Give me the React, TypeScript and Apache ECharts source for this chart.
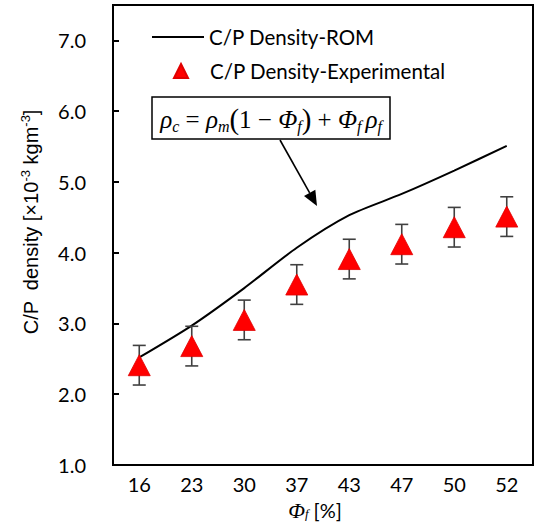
import React, { useEffect, useRef } from "react";
import * as echarts from "echarts";

const categories = ["16", "23", "30", "37", "43", "47", "50", "52"];
const romValues = [2.52, 2.97, 3.5, 4.07, 4.53, 4.83, 5.16, 5.51];
const expValues = [2.41, 2.68, 3.05, 3.55, 3.91, 4.12, 4.36, 4.51];
const expErrors = [0.28, 0.28, 0.28, 0.28, 0.28, 0.28, 0.28, 0.28];
const yTicks = { min: 1, max: 7.5, interval: 1 };

const ROM_NAME = "C/P Density-ROM";
const EXP_NAME = "C/P Density-Experimental";

export default function App() {
  const ref = useRef<HTMLDivElement>(null);
  useEffect(() => {
    if (!ref.current) return;
    const chart = echarts.init(ref.current, undefined, { renderer: "svg" });
    const errData = expValues.map((v, i) => [i, v - expErrors[i], v + expErrors[i]]);

    // arrow geometry
    const sx = 280, sy = 140, tx = 317, ty = 206;
    const dx = tx - sx, dy = ty - sy;
    const len = Math.sqrt(dx * dx + dy * dy);
    const ux = dx / len, uy = dy / len;
    const hl = 15, hw = 6.5;
    const bx = tx - ux * hl, by = ty - uy * hl;
    const px = -uy, py = ux;

    const legendText = { fontFamily: "Lato", fontSize: 20.5, color: "#000" };

    const option: any = {
      animation: false,
      backgroundColor: "#fff",
      grid: {
        left: 113,
        right: 9,
        top: 5,
        bottom: 63,
        show: true,
        borderColor: "#000",
        borderWidth: 2,
        backgroundColor: "transparent",
      },
      legend: [
        {
          data: [{ name: ROM_NAME, icon: "rect" }],
          left: 147,
          top: 21,
          itemWidth: 52,
          itemHeight: 2,
          textStyle: { ...legendText, lineHeight: 22 },
        },
        {
          data: [{ name: EXP_NAME, icon: "triangle" }],
          left: 168,
          top: 55,
          itemWidth: 14,
          itemHeight: 14,
          textStyle: { ...legendText, lineHeight: 22, padding: [0, 0, 0, 17] },
        },
      ],
      xAxis: {
        type: "category",
        data: categories,
        boundaryGap: true,
        axisLine: { lineStyle: { color: "#000", width: 2 } },
        axisTick: { inside: true, alignWithLabel: true, length: 6, lineStyle: { color: "#000", width: 2 } },
        axisLabel: { margin: 11, fontFamily: "Lato", fontSize: 20, lineHeight: 16, color: "#000" },
        splitLine: { show: false },
      },
      yAxis: {
        type: "value",
        min: yTicks.min,
        max: yTicks.max,
        interval: yTicks.interval,
        axisLine: { show: true, lineStyle: { color: "#000", width: 2 } },
        axisTick: { show: true, inside: true, length: 6, lineStyle: { color: "#000", width: 2 } },
        axisLabel: {
          margin: 27,
          fontFamily: "Lato",
          fontSize: 20,
          color: "#000",
          formatter: (v: number) => (v > 7.2 ? "" : v.toFixed(1)),
        },
        splitLine: { show: false },
      },
      series: [
        {
          name: ROM_NAME,
          type: "line",
          data: romValues,
          symbol: "none",
          smooth: 0.25,
          lineStyle: { color: "#000", width: 2 },
          itemStyle: { color: "#000" },
          z: 3,
        },
        {
          name: "err",
          type: "custom",
          data: errData,
          z: 4,
          renderItem: (params: any, api: any) => {
            const i = api.value(0);
            const lo = api.coord([i, api.value(1)]);
            const hi = api.coord([i, api.value(2)]);
            const cw = 6.5;
            const st = { stroke: "#404040", lineWidth: 1.6 };
            return {
              type: "group",
              children: [
                { type: "line", shape: { x1: lo[0], y1: lo[1], x2: hi[0], y2: hi[1] }, style: st },
                { type: "line", shape: { x1: lo[0] - cw, y1: lo[1], x2: lo[0] + cw, y2: lo[1] }, style: st },
                { type: "line", shape: { x1: hi[0] - cw, y1: hi[1], x2: hi[0] + cw, y2: hi[1] }, style: st },
              ],
            };
          },
        },
        {
          name: EXP_NAME,
          type: "scatter",
          data: expValues,
          symbol: "triangle",
          symbolSize: [22, 21],
          itemStyle: { color: "#ff0000", borderColor: "#e00000", borderWidth: 0.8, opacity: 1 },
          z: 5,
        },
      ],
      graphic: [
        {
          type: "rect",
          shape: { x: 152, y: 97, width: 238, height: 42 },
          style: { fill: "#fff", stroke: "#000", lineWidth: 1.5 },
          z: 10,
        },
        {
          type: "text",
          x: 271,
          y: 119,
          z: 11,
          style: {
            align: "center",
            verticalAlign: "middle",
            text:
              "{i|ρ}{s|c}{r| = }{i|ρ}{s|m}{p|(}{r|1 − }{i|Φ}{s|f}{p|)}{r| + }{i|Φ}{s|f }{i|ρ}{s|f}",
            rich: {
              i: { fontFamily: "Liberation Serif", fontStyle: "italic", fontSize: 25, color: "#000", lineHeight: 30 },
              s: { fontFamily: "Liberation Serif", fontStyle: "italic", fontSize: 16, color: "#000", verticalAlign: "bottom", lineHeight: 30 },
              r: { fontFamily: "Liberation Serif", fontSize: 25, color: "#000", lineHeight: 30 },
              p: { fontFamily: "Liberation Serif", fontSize: 29, color: "#000", lineHeight: 30 },
            },
          },
        },
        {
          type: "line",
          z: 11,
          shape: { x1: sx, y1: sy, x2: bx, y2: by },
          style: { stroke: "#000", lineWidth: 1.6 },
        },
        {
          type: "polygon",
          z: 11,
          shape: {
            points: [
              [tx, ty],
              [bx + px * hw, by + py * hw],
              [bx - px * hw, by - py * hw],
            ],
          },
          style: { fill: "#000" },
        },
        {
          type: "text",
          x: 31,
          y: 222,
          rotation: Math.PI / 2,
          style: {
            align: "center",
            verticalAlign: "middle",
            text: "{b|C/P  density [×10}{sup|-3}{b| kgm}{sup|-3}{b|]}",
            rich: {
              b: { fontFamily: "Liberation Sans", fontSize: 20, color: "#000", lineHeight: 24 },
              sup: { fontFamily: "Liberation Sans", fontSize: 13, color: "#000", verticalAlign: "top", lineHeight: 24 },
            },
          },
        },
        {
          type: "text",
          x: 315,
          y: 510,
          style: {
            align: "center",
            verticalAlign: "middle",
            text: "{phi|Φ}{sub|f}{t| [%]}",
            rich: {
              phi: { fontFamily: "Liberation Serif", fontStyle: "italic", fontSize: 22, color: "#000", lineHeight: 20 },
              sub: { fontFamily: "Liberation Serif", fontStyle: "italic", fontSize: 13, color: "#000", verticalAlign: "bottom", lineHeight: 20 },
              t: { fontFamily: "Lato", fontSize: 20, color: "#000", lineHeight: 20 },
            },
          },
        },
      ],
    };
    chart.setOption(option);
    return () => chart.dispose();
  }, []);
  return (
    <div
      ref={ref}
      style={{ position: "fixed", left: 0, top: 0, width: 542, height: 528, overflow: "hidden" }}
    />
  );
}
